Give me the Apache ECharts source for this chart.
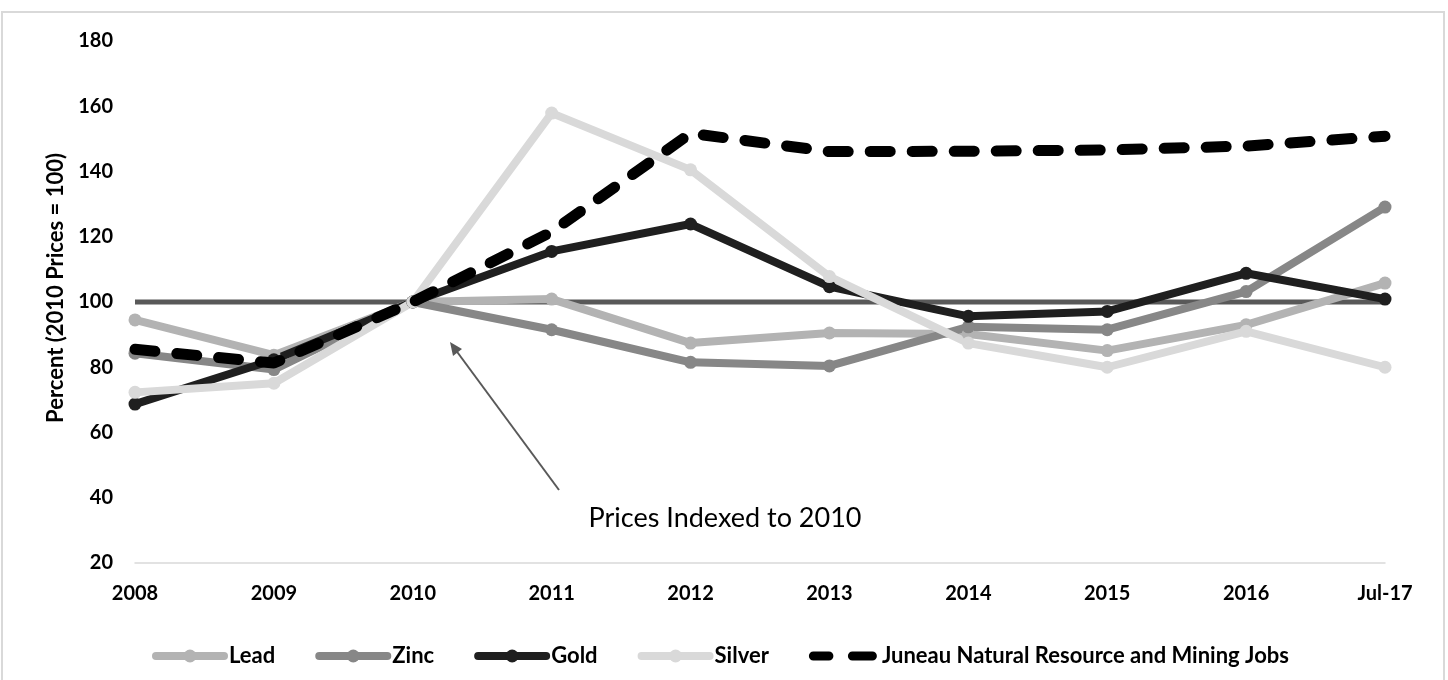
<!DOCTYPE html>
<html>
<head>
<meta charset="utf-8">
<script src="https://cdn.jsdelivr.net/npm/echarts@6/dist/echarts.min.js"></script>
<style>
html,body{margin:0;padding:0;background:#fff;}
#chart{width:1448px;height:680px;}
</style>
</head>
<body>
<div id="chart"></div>
<script>
const categories = ['2008','2009','2010','2011','2012','2013','2014','2015','2016','Jul-17'];
const lead   = [94.5, 83.7, 100, 100.9, 87.4, 90.5, 90.2, 85.1, 93.0, 105.8];
const zinc   = [84.3, 79.3, 100, 91.5, 81.5, 80.4, 92.4, 91.5, 103.2, 129.1];
const gold   = [68.7, 82.3, 100, 115.5, 123.9, 104.7, 95.6, 97.1, 108.8, 100.9];
const silver = [72.3, 75.1, 100, 157.9, 140.5, 107.8, 87.4, 80.0, 91.0, 80.0];
const jobs   = [85.5, 81.3, 100, 121.5, 151.7, 146.1, 146.2, 146.6, 147.8, 150.8];
const baseline = [100, 100, 100, 100, 100, 100, 100, 100, 100, 100];
const yTicks = {min: 20, max: 180, interval: 20};
const yAxisTitle = 'Percent (2010 Prices = 100)';
const annotationText = 'Prices Indexed to 2010';

const FONT = 'Lato';
const chart = echarts.init(document.getElementById('chart'), null, {renderer: 'canvas'});

function lineSeries(name, data, color) {
  return {
    name: name, type: 'line', data: data,
    symbol: 'circle', symbolSize: 13, showSymbol: true,
    lineStyle: {color: color, width: 8, cap: 'round', join: 'round'},
    itemStyle: {color: color},
    emphasis: {disabled: true},
    z: 3
  };
}

const jobsIcon = 'path://M4 0 L18 0 A4 4 0 0 1 18 8 L4 8 A4 4 0 0 1 4 0 Z M39 0 L57 0 A4 4 0 0 1 57 8 L39 8 A4 4 0 0 1 39 0 Z';

chart.setOption({
  animation: false,
  backgroundColor: '#fff',
  grid: {left: 135, right: 63, top: 41, bottom: 117, containLabel: false},
  xAxis: {
    type: 'category', data: categories, boundaryGap: false,
    axisLine: {show: true, lineStyle: {color: '#d9d9d9', width: 1.5}},
    axisTick: {show: false},
    splitLine: {show: false},
    axisLabel: {color: '#000', fontFamily: FONT, fontWeight: 'bold', fontSize: 20, margin: 21}
  },
  yAxis: {
    type: 'value', min: yTicks.min, max: yTicks.max, interval: yTicks.interval,
    axisLine: {show: false}, axisTick: {show: false}, splitLine: {show: false},
    axisLabel: {color: '#000', fontFamily: FONT, fontWeight: 'bold', fontSize: 20, margin: 22},
    name: yAxisTitle, nameLocation: 'middle', nameGap: 68,
    nameTextStyle: {color: '#000', fontFamily: FONT, fontWeight: 'bold', fontSize: 22, padding: [0, 0, 0, 28]}
  },
  legend: {
    left: 147, top: 640,
    itemWidth: 68, itemHeight: 16, itemGap: 40,
    textStyle: {color: '#000', fontFamily: FONT, fontWeight: 'bold', fontSize: 22},
    lineStyle: {width: 8, cap: 'round'},
    selectedMode: false,
    data: [
      {name: 'Lead'}, {name: 'Zinc'}, {name: 'Gold'}, {name: 'Silver'},
      {name: 'Juneau Natural Resource and Mining Jobs', icon: jobsIcon, itemStyle: {color: '#000'}}
    ]
  },
  series: [
    {
      name: 'Baseline', type: 'line', data: baseline, symbol: 'none',
      lineStyle: {color: '#595959', width: 5}, itemStyle: {color: '#595959'},
      emphasis: {disabled: true}, z: 2
    },
    lineSeries('Lead', lead, '#b3b3b3'),
    lineSeries('Zinc', zinc, '#878787'),
    lineSeries('Gold', gold, '#1f1f1f'),
    lineSeries('Silver', silver, '#d9d9d9'),
    {
      name: 'Juneau Natural Resource and Mining Jobs', type: 'line', data: jobs,
      symbol: 'none',
      lineStyle: {color: '#000', width: 11, type: [20, 22], cap: 'round', join: 'round'},
      itemStyle: {color: '#000'},
      emphasis: {disabled: true}, z: 4
    }
  ],
  graphic: [
    {type: 'rect', shape: {x: 2, y: 12, width: 1442, height: 700},
     style: {fill: 'none', stroke: '#d9d9d9', lineWidth: 2}, z: 0, silent: true},
    {type: 'line', shape: {x1: 559, y1: 490, x2: 455, y2: 349},
     style: {stroke: '#595959', lineWidth: 2}, z: 10, silent: true},
    {type: 'polygon', shape: {points: [[450, 342], [462, 349], [453, 356]]},
     style: {fill: '#595959'}, z: 10, silent: true},
    {type: 'text', x: 725, y: 518,
     style: {text: annotationText, fill: '#000', font: '27px Lato', textAlign: 'center', textVerticalAlign: 'middle'},
     z: 10, silent: true}
  ]
});
</script>
</body>
</html>
